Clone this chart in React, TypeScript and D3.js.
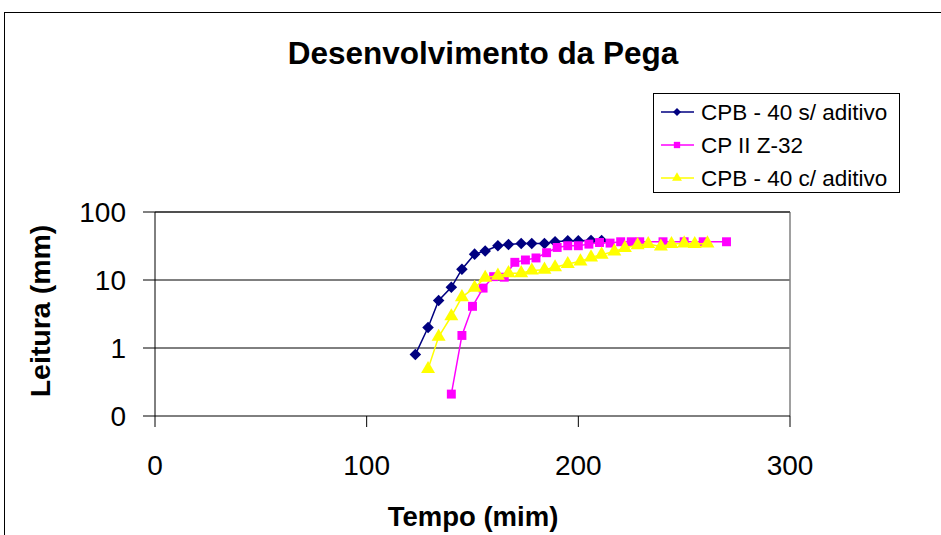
import * as React from "react";
import * as d3 from "d3";

// Desenvolvimento da Pega - leitura (mm) x tempo (min)
const tempoCPB40s = [123, 129, 134, 140, 145, 151, 156, 162, 167, 173, 178, 184, 189, 195, 200, 206, 211];
const leituraCPB40s = [0.8, 2.0, 5.0, 7.8, 14.4, 24, 26.7, 31.9, 33.3, 34.4, 34.4, 34.4, 36.5, 37.7, 37.7, 38, 38];

const tempoCPII = [140, 145, 150, 155, 160, 165, 170, 175, 180, 185, 190, 195, 200, 205, 210, 215, 220, 225, 229, 240, 250, 259, 270];
const leituraCPII = [0.21, 1.53, 4.1, 7.6, 11.2, 11.0, 18.2, 19.7, 21.1, 25.2, 30.1, 31.9, 31.9, 33.7, 35.6, 34.9, 36.5, 36.5, 36.5, 36.5, 36.5, 36.5, 36.5];

const tempoCPB40c = [129, 134, 140, 145, 151, 156, 162, 167, 173, 178, 184, 189, 195, 201, 206, 211, 217, 222, 228, 233, 239, 244, 250, 255, 261];
const leituraCPB40c = [0.49, 1.46, 2.93, 5.6, 7.7, 10.8, 11.6, 12.6, 12.6, 13.8, 14.2, 15.4, 17.2, 18.8, 21.5, 23.6, 26.3, 29.5, 32.6, 33.8, 31.1, 33.8, 34.5, 33.8, 34.5];

const xTicks = [0, 100, 200, 300];
const yTicks = [0.1, 1, 10, 100];
const yTickLabels = ["0", "1", "10", "100"];

const seriesNames = ["CPB - 40 s/ aditivo", "CP II Z-32", "CPB - 40 c/ aditivo"];

const series = [
  { name: seriesNames[0], t: tempoCPB40s, v: leituraCPB40s, color: "#000080", symbol: d3.symbolDiamond2, size: 85, legendSize: 40 },
  { name: seriesNames[1], t: tempoCPII, v: leituraCPII, color: "#FF00FF", symbol: d3.symbolSquare, size: 80, legendSize: 40 },
  { name: seriesNames[2], t: tempoCPB40c, v: leituraCPB40c, color: "#FFFF00", symbol: d3.symbolTriangle, size: 85, legendSize: 42 },
];

const font = "Arial, 'Liberation Sans', sans-serif";

export default function App() {
  const left = 155, right = 790, top = 212, bottom = 416;

  const x = d3.scaleLinear().domain([0, 300]).range([left, right]);
  const y = d3.scaleLog().domain([0.1, 100]).range([bottom, top]);

  const line = d3
    .line<[number, number]>()
    .x(d => x(d[0]))
    .y(d => y(d[1]));

  return (
    <svg
      width={941}
      height={535}
      style={{ position: "absolute", left: 0, top: 0, display: "block", background: "#fff" }}
      fontFamily={font}
    >
      <rect x={4.5} y={12.5} width={1000} height={1000} fill="#fff" stroke="#000" strokeWidth={1} />

      <text x={483} y={64} textAnchor="middle" fontSize={31.5} fontWeight="bold">
        Desenvolvimento da Pega
      </text>

      {/* gridlines */}
      {yTicks.slice(1).map(v => (
        <line key={"g" + v} x1={left} x2={right} y1={y(v)} y2={y(v)} stroke="#000" strokeWidth={1} />
      ))}
      <line x1={right} x2={right} y1={top} y2={bottom} stroke="#808080" strokeWidth={1.5} />
      <line x1={left} x2={right} y1={top} y2={top} stroke="#404040" strokeWidth={1.5} />

      {/* axes */}
      <line x1={left} x2={left} y1={top} y2={bottom} stroke="#000" />
      <line x1={left} x2={right} y1={bottom} y2={bottom} stroke="#000" />
      {yTicks.map((v, i) => (
        <g key={"y" + v}>
          <line x1={left - 12} x2={left} y1={y(v)} y2={y(v)} stroke="#000" />
          <text x={126} y={y(v) + 10} textAnchor="end" fontSize={28}>
            {yTickLabels[i]}
          </text>
        </g>
      ))}
      {xTicks.map(v => (
        <g key={"x" + v}>
          <line x1={x(v)} x2={x(v)} y1={bottom} y2={bottom + 11} stroke="#000" />
          <text x={x(v)} y={475} textAnchor="middle" fontSize={28}>
            {v}
          </text>
        </g>
      ))}

      <text x={473} y={526} textAnchor="middle" fontSize={27.5} fontWeight="bold">
        Tempo (mim)
      </text>
      <text
        transform={`translate(50,311) rotate(-90)`}
        textAnchor="middle"
        fontSize={28.5}
        fontWeight="bold"
      >
        Leitura (mm)
      </text>

      {/* series */}
      {series.map(s => {
        const pts = s.t.map((t, i) => [t, s.v[i]] as [number, number]);
        const sym = d3.symbol().type(s.symbol).size(s.size)();
        return (
          <g key={s.name}>
            <path d={line(pts) || ""} fill="none" stroke={s.color} strokeWidth={1.5} />
            {pts.map((p, i) => (
              <path key={i} d={sym || ""} transform={`translate(${x(p[0])},${y(p[1])})`} fill={s.color} />
            ))}
          </g>
        );
      })}

      {/* legend */}
      <rect x={653.5} y={93.5} width={246} height={99} fill="#fff" stroke="#000" strokeWidth={1} />
      {series.map((s, i) => {
        const cy = 112 + i * 33;
        const sym = d3.symbol().type(s.symbol).size(s.legendSize)();
        return (
          <g key={"l" + s.name}>
            <line x1={661} x2={694} y1={cy} y2={cy} stroke={s.color} strokeWidth={1.5} />
            <path d={sym || ""} transform={`translate(677,${cy})`} fill={s.color} />
            <text x={701} y={cy + 8} fontSize={22.5}>
              {s.name}
            </text>
          </g>
        );
      })}
    </svg>
  );
}
